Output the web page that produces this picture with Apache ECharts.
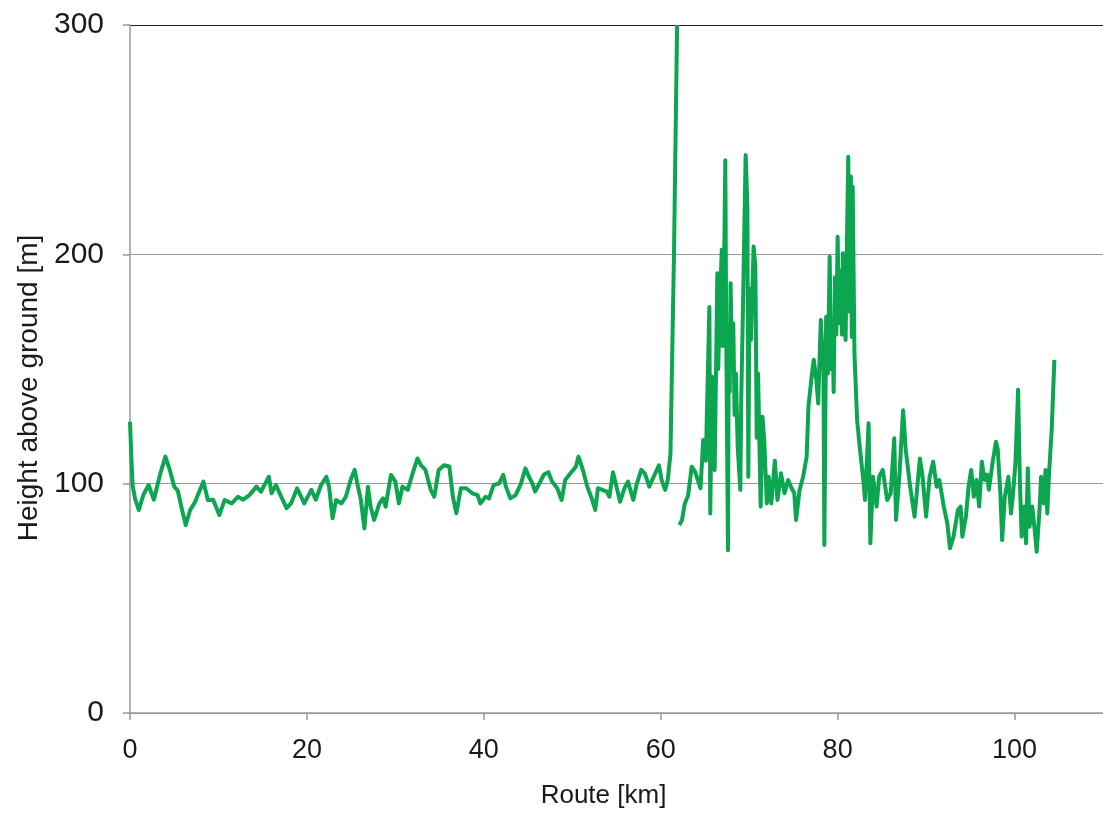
<!DOCTYPE html>
<html>
<head>
<meta charset="utf-8">
<title>Height above ground along the route</title>
<script src="https://cdn.jsdelivr.net/npm/echarts@6/dist/echarts.min.js"></script>
<style>
  html, body { margin: 0; padding: 0; background: #ffffff; }
  #chart { width: 1103px; height: 816px; }
</style>
</head>
<body>
<div id="chart"></div>
<script>
// Route position along the flight path [km]
const routeKm = [
  0.0, 0.15, 0.3, 0.6, 1.0, 1.5, 2.1, 2.7, 3.4, 4.0, 4.5, 5.0, 5.4, 5.8, 6.3, 6.8, 7.3, 8.3, 8.8, 9.4,
  10.1, 10.7, 11.5, 12.2, 12.8, 13.5, 14.3, 14.8, 15.2, 15.7, 16.0, 16.5, 17.1, 17.7, 18.2, 18.9, 19.7,
  20.5, 21.0, 21.6, 22.2, 22.5, 22.9, 23.3, 23.9, 24.4, 25.0, 25.4, 25.7, 26.1, 26.5, 26.9, 27.2, 27.6,
  28.2, 28.6, 28.9, 29.5, 30.0, 30.4, 30.8, 31.4, 31.9, 32.5, 32.9, 33.4, 34.0, 34.4, 34.9, 35.5, 36.1,
  36.5, 36.9, 37.4, 38.0, 38.7, 39.3, 39.6, 40.2, 40.6, 41.1, 41.7, 42.2, 42.5, 43.0, 43.6, 44.2, 44.7,
  45.1, 45.5, 45.8, 46.4, 46.8, 47.3, 47.7, 48.3, 48.8, 49.2, 49.8, 50.4, 50.7, 51.2, 51.7, 52.2, 52.6,
  52.9, 53.4, 53.9, 54.2, 54.6, 55.0, 55.4, 55.9, 56.3, 56.9, 57.3, 57.8, 58.2, 58.7, 59.2, 59.8, 60.1,
  60.5, 60.8, 61.1, 61.5, 61.85, 61.85,
  62.1, 62.4, 62.7, 63.1, 63.5, 63.9, 64.5, 64.8, 65.1, 65.5, 65.6, 65.8, 66.0, 66.1, 66.4, 66.5, 66.6,
  66.75, 66.9, 67.0, 67.1, 67.3, 67.4, 67.6, 67.7, 67.8, 67.9, 68.05, 68.2, 68.35, 68.5, 68.7, 69.0,
  69.1, 69.3, 69.6, 69.8, 69.9, 70.05, 70.2, 70.5, 70.7, 70.85, 71.0, 71.3, 71.5, 71.7, 72.0, 72.2,
  72.5, 72.9, 73.2, 73.6, 74.0, 74.4, 74.8, 75.1, 75.3, 75.7, 76.1, 76.5, 76.7, 77.1, 77.3, 77.6, 77.8,
  78.1, 78.4, 78.5, 78.7, 78.9, 79.1, 79.25, 79.4, 79.55, 79.7, 79.85, 80.0, 80.15, 80.3, 80.4, 80.5,
  80.6, 80.75, 80.9, 81.05, 81.2, 81.35, 81.5, 81.6, 81.7, 81.9, 82.2, 82.5, 82.9, 83.1, 83.5, 83.7,
  84.0, 84.4, 84.7, 85.1, 85.6, 86.0, 86.4, 86.6, 87.0, 87.4, 87.7, 88.2, 88.7, 89.3, 89.6, 90.0, 90.4,
  90.8, 91.2, 91.5, 92.0, 92.4, 92.7, 93.1, 93.6, 93.9, 94.1, 94.5, 94.8, 95.1, 95.4, 95.7, 96.0, 96.3,
  96.6, 96.9, 97.1, 97.5, 97.9, 98.1, 98.4, 98.6, 98.9, 99.3, 99.6, 99.8, 100.1, 100.4, 100.6, 100.8,
  101.1, 101.3, 101.5, 101.7, 102.0, 102.3, 102.5, 102.8, 103.0, 103.3, 103.5, 103.7, 103.9, 104.2, 104.5
];

// Height above ground [m]; null marks the break in the recording
const heightM = [
  127, 112, 99, 93, 88.5, 95, 99.4, 93, 104, 111.8, 106, 98.7, 97, 90, 82, 88.5, 91.6, 100.9, 92.9, 93,
  86.3, 92.9, 91.4, 94.3, 93, 95, 98.7, 96.5, 99.4, 103, 95.8, 99.4, 94.3, 89.3, 91.4, 98, 91.4,
  97.3, 93, 99.4, 103, 98.7, 84.9, 92.9, 91.4, 94.3, 102.3, 106, 100, 92.9, 80.5, 98.7, 90, 84.2,
  91.4, 93.6, 90, 103.8, 100.9, 91.4, 98.7, 97.3, 103.8, 111, 108, 106, 97.3, 94.3, 106, 108, 107.5,
  94.3, 87.1, 98, 98, 95.8, 95, 91.4, 94.3, 93.6, 99.4, 100, 103.8, 98.7, 93.6, 95, 100, 106.7,
  103, 100, 96.5, 101, 104, 105, 101, 98, 92.9, 101.6, 104.5, 107.4, 111.8, 106, 98.7, 93.6, 88.5,
  98, 97.3, 96.5, 94.3, 105, 98.7, 92.1, 98, 100.9, 92.9, 100, 106, 104.5, 98.7, 103, 108, 101.6,
  97.3, 101.6, 113, 200, 300, null,
  82, 84, 91, 95, 107.4, 105, 98, 119, 110, 177, 87, 146.7, 123, 106, 191.7, 150, 165.6,
  185, 202, 160, 171.4, 241, 168.5, 71, 168.5, 140, 187.4, 155, 170, 130, 148, 116, 97.3,
  136.5, 177, 243.3, 220.8, 103, 185, 162.7, 203.4, 194.6, 120, 148, 90, 129.2, 119, 91.4, 103,
  91.4, 110, 92.9, 104.5, 95.8, 101.6, 98, 95.8, 84.2, 97.3, 103, 111.8, 133.6, 148, 154, 145, 135,
  171.4, 148, 73.3, 172.8, 148, 199, 150, 171, 140, 190, 165, 207.7, 170, 193, 178, 165,
  200.5, 170, 162.7, 205, 242.6, 175, 233.9, 164, 229.5, 157, 127.8, 116, 101.6, 92.9, 126.3, 74,
  103, 90, 103, 106, 92.9, 95.8, 119.8, 84.2, 104.5, 132, 114.7, 98.7, 85.6, 111, 103, 85.6, 103,
  109.6, 98.7, 101.6, 90, 82.7, 71.8, 76.9, 88.5, 90, 76.9, 85.6, 98.7, 106, 94.3, 101.6, 90, 109.6,
  101.6, 104, 97.3, 108.8, 118.3, 115, 95.8, 75.4, 94.3, 103, 87, 94.3, 108.8, 140.9, 101.6, 76.9,
  90, 74, 106.7, 81.2, 90, 79, 70.3, 87, 103, 91.4, 106, 87, 104.5, 123.4, 154
];

// Axis tick values
const xTicks = [0, 20, 40, 60, 80, 100];
const yTicks = [0, 100, 200, 300];

const seriesData = routeKm.map((km, i) => [km, heightM[i] === null ? '-' : heightM[i]]);

const labelFont = 'Liberation Sans, Arial, sans-serif';
const chart = echarts.init(document.getElementById('chart'), null, { renderer: 'canvas' });

chart.setOption({
  backgroundColor: '#ffffff',
  animation: false,
  grid: { left: 130, top: 25, right: -3, bottom: 103 },
  xAxis: {
    type: 'value',
    min: xTicks[0],
    max: 110,
    interval: xTicks[1] - xTicks[0],
    name: 'Route [km]',
    nameLocation: 'middle',
    nameGap: 70,
    nameTextStyle: { fontFamily: labelFont, fontSize: 26, color: '#1a1a1a', padding: [0, 26, 0, 0] },
    axisLine: { lineStyle: { color: '#999999', width: 1.5 } },
    axisTick: { show: true, length: 7, lineStyle: { color: '#999999', width: 1.5 } },
    axisLabel: {
      fontFamily: labelFont, fontSize: 27, color: '#1a1a1a', margin: 24,
      showMaxLabel: false,
      formatter: v => (xTicks.includes(v) ? String(v) : '')
    },
    splitLine: { show: false }
  },
  yAxis: {
    type: 'value',
    min: yTicks[0],
    max: yTicks[yTicks.length - 1],
    interval: yTicks[1] - yTicks[0],
    name: 'Height above ground [m]',
    nameLocation: 'middle',
    nameGap: 84,
    nameRotate: 90,
    nameTextStyle: { fontFamily: labelFont, fontSize: 28, color: '#1a1a1a', padding: [0, 38, 0, 0] },
    axisLine: { show: true, lineStyle: { color: '#999999', width: 1.5 } },
    axisTick: { show: true, length: 7, lineStyle: { color: '#999999', width: 1.5 } },
    axisLabel: { fontFamily: labelFont, fontSize: 30, color: '#1a1a1a', margin: 26 },
    splitLine: {
      show: true,
      lineStyle: { color: ['#999999', '#999999', '#999999', '#222222'], width: 1.2 }
    }
  },
  series: [{
    type: 'line',
    data: seriesData,
    showSymbol: false,
    connectNulls: false,
    clip: true,
    lineStyle: { color: '#0ba64f', width: 4, join: 'round' },
    itemStyle: { color: '#0ba64f' }
  }]
});
</script>
</body>
</html>
